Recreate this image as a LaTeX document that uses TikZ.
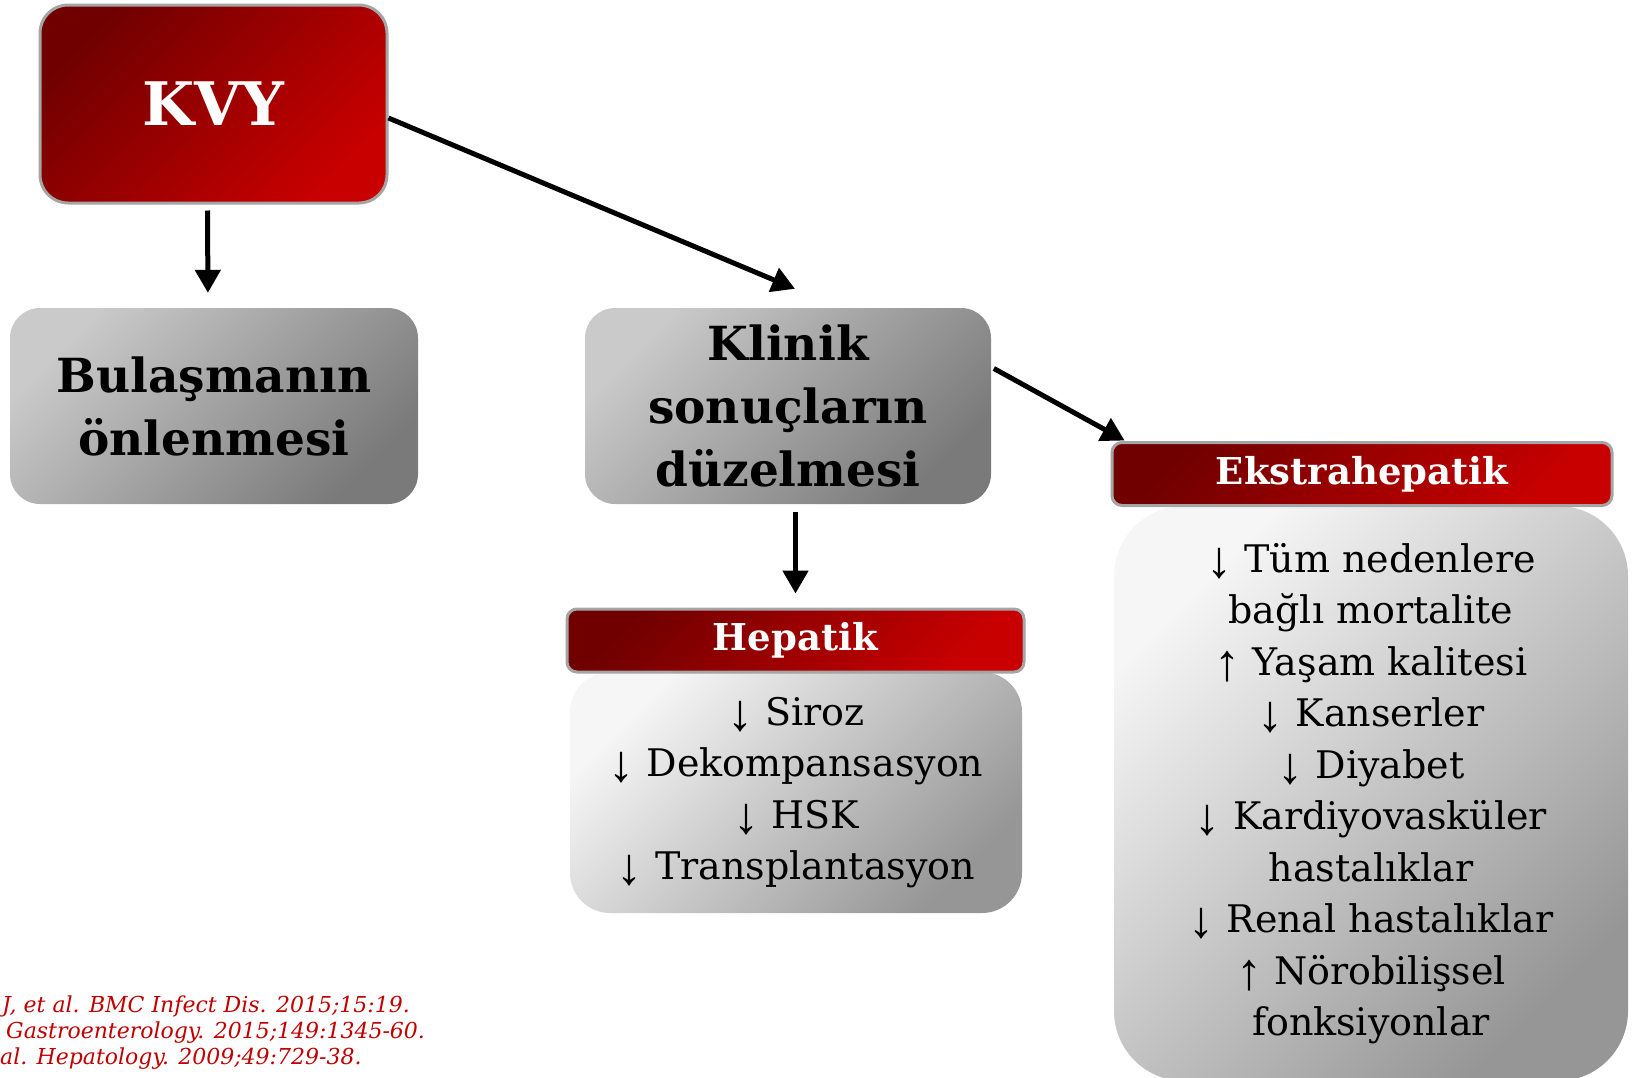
\documentclass[tikz,border=0pt]{standalone}
\usepackage{fontspec}
\setmainfont{DejaVu Serif}
\newfontfamily\arrowfont{Liberation Serif}
\usetikzlibrary{positioning, calc, arrows.meta}
\definecolor{kvyDark}{RGB}{112, 0, 0}
\definecolor{kvyRed}{RGB}{200, 0, 0}
\definecolor{boxLight}{RGB}{202, 202, 202}
\definecolor{boxDark}{RGB}{122, 122, 122}
\definecolor{bodyLight}{RGB}{246, 246, 246}
\definecolor{bodyDark}{RGB}{150, 150, 150}
\definecolor{edgeGray}{RGB}{165, 165, 165}
\definecolor{refRed}{RGB}{192, 0, 0}
\newcommand{\dnar}{\raisebox{-5pt}{\arrowfont\fontsize{52}{52}\selectfont ↓}}
\newcommand{\upar}{\raisebox{-5pt}{\arrowfont\fontsize{52}{52}\selectfont ↑}}

\begin{document}
\begin{tikzpicture}[
    % 1 unit = 1 pt = 1 px of the 1633x1077 frame, y runs downwards
    x=1pt, y=-1pt,
    redbox/.style={draw=edgeGray, line width=3pt, rounded corners=28pt,
                   top color=kvyDark, bottom color=kvyRed, shading angle=45,
                   text=white, align=center, inner sep=0pt},
    redhead/.style={redbox, rounded corners=10pt,
                    font=\fontsize{37}{40}\selectfont\bfseries},
    graybox/.style={rounded corners=30pt, top color=boxLight,
                    bottom color=boxDark, shading angle=45,
                    align=center, inner sep=0pt,
                    font=\fontsize{47}{63}\selectfont\bfseries},
    bodybox/.style={rounded corners=40pt, top color=bodyLight,
                    bottom color=bodyDark, shading angle=45,
                    align=center, inner sep=0pt,
                    font=\fontsize{38}{51.5}\selectfont},
    reftext/.style={anchor=base west, inner sep=0pt, text=refRed,
                    font=\fontsize{22}{26}\selectfont\itshape},
    arr/.style={-{Triangle[length=23pt, width=25pt]}, line width=5pt}
  ]
  \useasboundingbox (0, 0) rectangle (1633, 1077);

  % ── Top: KVY and its two goals ──────────────────────────────────────────
  \node[redbox, minimum width=347pt, minimum height=198pt,
        font=\fontsize{60}{66}\selectfont\bfseries]
        (kvy) at (213.5, 104) {KVY};
  \node[graybox, minimum width=408pt, minimum height=196pt]
        (bul) at (214, 406) {Bulaşmanın\\önlenmesi};
  \node[graybox, minimum width=406pt, minimum height=196pt]
        (klinik) at (788, 406) {Klinik\\sonuçların\\düzelmesi};

  % ── Hepatik outcomes ────────────────────────────────────────────────────
  \node[bodybox, minimum width=452pt, minimum height=241pt]
        (hepb) at (796, 792.5)
        {\dnar{} Siroz\\\dnar{} Dekompansasyon\\\dnar{} HSK\\\dnar{} Transplantasyon};
  \node[redhead, minimum width=457pt, minimum height=63pt]
        (heph) at (795.5, 640.5) {Hepatik};

  % ── Ekstrahepatik outcomes ──────────────────────────────────────────────
  \node[bodybox, rounded corners=70pt, minimum width=514pt, minimum height=575pt]
        (eksb) at (1371, 793.5)
        {\dnar{} Tüm nedenlere\\bağlı mortalite\\\upar{} Yaşam kalitesi\\
         \dnar{} Kanserler\\\dnar{} Diyabet\\\dnar{} Kardiyovasküler\\
         hastalıklar\\\dnar{} Renal hastalıklar\\\upar{} Nörobilişsel\\
         fonksiyonlar};
  \node[redhead, minimum width=500pt, minimum height=63pt]
        (eksh) at (1362, 474) {Ekstrahepatik};

  % ── Arrows ──────────────────────────────────────────────────────────────
  \draw[arr, shorten <=6pt, shorten >=15pt]
        ([xshift=-6pt]kvy.south) -- ([xshift=-6pt]bul.north);
  \draw[arr] ([yshift=-14pt]kvy.east) -- ([xshift=7pt, yshift=19pt]klinik.north);
  \draw[arr, shorten <=8pt, shorten >=14pt]
        (klinik.south -| heph.north) -- (heph.north);
  \draw[arr, shorten <=3pt, shorten >=1pt]
        ([yshift=39pt]klinik.east) -- ([xshift=15pt]eksh.north west);

  % ── References (bottom left) ────────────────────────────────────────────
  \node[reftext] (ref1) at (2, 1012) {J, et al. BMC Infect Dis. 2015;15:19.};
  \node[reftext] (ref2) at (6, 1038) {Gastroenterology. 2015;149:1345-60.};
  \node[reftext] (ref3) at (0, 1064) {al. Hepatology. 2009;49:729-38.};

\end{tikzpicture}
\end{document}
